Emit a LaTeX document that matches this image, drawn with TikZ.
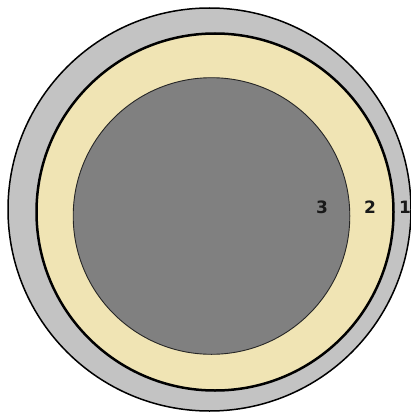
\documentclass[tikz,border=0pt]{standalone}
\usepackage{fontspec}
\setmainfont{DejaVu Sans}
\definecolor{outergray}{HTML}{C3C3C3}
\definecolor{cream}{HTML}{F0E4B4}
\definecolor{coregray}{HTML}{808080}
\tikzset{
  lbl/.style={font=\bfseries\fontsize{17}{17}\selectfont, text=black!90, inner sep=0pt, anchor=center}
}
\begin{document}
\begin{tikzpicture}[x=1pt,y=-1pt]
\useasboundingbox (0,0) rectangle (411,412);
\fill[white] (0,0) rectangle (411,412);
\draw[fill=outergray, line width=1.5pt] (209.5,209.5) circle (201.5);
\draw[fill=cream, line width=2.5pt] (215,212) circle (178.5);
\draw[fill=coregray, draw=black!85, line width=0.9pt] (211.5,216) circle (138.3);
\node[lbl] (n3) at (322,207) {3};
\node[lbl] (n2) at (370,207) {2};
\node[lbl] (n1) at (405,207) {1};
\end{tikzpicture}
\end{document}
